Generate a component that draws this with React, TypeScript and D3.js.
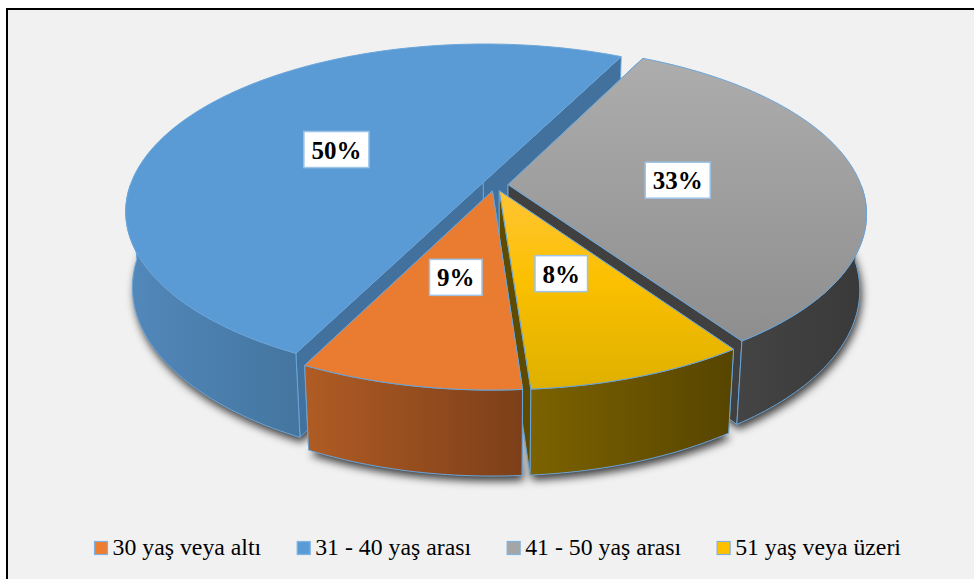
import React from "react";
import * as d3 from "d3";

// values
const categories = ["30 yaş veya altı", "31 - 40 yaş arası", "41 - 50 yaş arası", "51 yaş veya üzeri"];
const shares = [8.5, 50, 33.1, 8.4];

// colours per slice
const topFills = ["#e97c30", "#5b9bd5", "url(#topGray)", "url(#topYellow)"];
const wallFills = ["url(#wallOrange)", "url(#wallBlue)", "url(#wallGray)", "url(#wallYellow)"];
const cutFills = ["#8a4a1e", "#41719c", "#404040", "#5f4b00"];
const legendFills = ["#ed7d31", "#5b9bd5", "#a5a5a5", "#ffc000"];
const edge = "#6aa5da";

// back to front
const drawOrder = [1, 2, 3, 0];

const W = 974;
const H = 579;

// camera used for the tilted disc
const cx = 495;
const cy = 185;
const R = 353;
const Rh = 162.8;
const persp = 0.171;
const depthPersp = 0.018;
const depth = 76;
const explode = 0.037;
const labelRadius = 0.485;
const firstAngle = (175.9 * Math.PI) / 180;

function project(u: number, v: number, z: number): [number, number] {
    const s = 1 / (1 + persp * v + depthPersp * z);
    return [cx + R * u * s, cy - Rh * v * s + depth * z * s];
}

export default function App() {
    const ref = React.useRef<SVGSVGElement>(null);

    React.useEffect(() => {
        const svg = d3.select(ref.current);
        svg.selectAll("*").remove();
        drawChart(svg);
    }, []);

    function drawChart(svg: any) {
        const defs = svg.append("defs");
        const addGradient = (id: string, vertical: boolean, stops: [number, string][]) => {
            const g = defs
                .append("linearGradient")
                .attr("id", id)
                .attr("x1", 0)
                .attr("y1", 0)
                .attr("x2", vertical ? 0 : 1)
                .attr("y2", vertical ? 1 : 0);
            stops.forEach(([o, c]) => g.append("stop").attr("offset", o).attr("stop-color", c));
        };
        addGradient("topGray", true, [[0, "#adadad"], [1, "#8e8e8e"]]);
        addGradient("topYellow", true, [[0, "#ffc535"], [0.45, "#fbc000"], [1, "#dfb000"]]);
        addGradient("wallOrange", false, [[0, "#b05c24"], [1, "#7c3f19"]]);
        addGradient("wallBlue", false, [[0, "#5288bb"], [1, "#44759f"]]);
        addGradient("wallGray", false, [[0, "#444444"], [1, "#393939"]]);
        addGradient("wallYellow", false, [[0, "#7c6200"], [1, "#574500"]]);

        const blur = defs
            .append("filter")
            .attr("id", "blur")
            .attr("x", "-10%")
            .attr("y", "-10%")
            .attr("width", "120%")
            .attr("height", "120%");
        blur.append("feGaussianBlur").attr("stdDeviation", 4);

        // chart frame
        svg.append("rect")
            .attr("x", 7)
            .attr("y", 9)
            .attr("width", W + 10)
            .attr("height", H + 10)
            .attr("fill", "#f1f1f1")
            .attr("stroke", "#000")
            .attr("stroke-width", 2);

        const pie = d3
            .pie<number>()
            .sort(null)
            .startAngle(firstAngle)
            .endAngle(firstAngle + 2 * Math.PI);
        const arcs = pie(shares);

        const line = d3.line();

        const slices = arcs.map((a) => {
            const mid = (a.startAngle + a.endAngle) / 2;
            const ou = explode * Math.sin(mid);
            const ov = explode * Math.cos(mid);
            const at = (r: number, t: number, z: number) =>
                project(ou + r * Math.sin(t), ov + r * Math.cos(t), z);
            const n = Math.ceil((a.endAngle - a.startAngle) / 0.02);
            const ts = d3.range(n + 1).map((i) => a.startAngle + ((a.endAngle - a.startAngle) * i) / n);
            return { mid, at, ts };
        });

        const pieG = svg.append("g");

        // soft shadow under the bottom plane
        const shadow = pieG.append("g").attr("filter", "url(#blur)").attr("transform", "translate(2,5)");
        slices.forEach((s) => {
            const pts = [s.at(0, s.ts[0], 1), ...s.ts.map((t) => s.at(1, t, 1))];
            shadow.append("path").attr("d", line(pts) + "Z").attr("fill", "#000").attr("fill-opacity", 0.75);
        });

        const face = (pts: [number, number][], fill: string) =>
            pieG
                .append("path")
                .attr("d", line(pts) + "Z")
                .attr("fill", fill)
                .attr("stroke", edge)
                .attr("stroke-width", 1)
                .attr("stroke-linejoin", "round");

        drawOrder.forEach((i) => {
            const s = slices[i];
            const first = s.ts[0];
            const last = s.ts[s.ts.length - 1];
            const cut = (t: number): [number, number][] => [
                s.at(0, t, 0),
                s.at(1, t, 0),
                s.at(1, t, 1),
                s.at(0, t, 1),
            ];
            face(cut(first), cutFills[i]);
            face(cut(last), cutFills[i]);
            // only the camera-facing part of the rim
            const front = s.ts.filter((t) => Math.cos(t) < 0);
            const wall = [
                ...front.map((t) => s.at(1, t, 0)),
                ...front.slice().reverse().map((t) => s.at(1, t, 1)),
            ];
            face(wall, wallFills[i]);
            face([s.at(0, first, 0), ...s.ts.map((t) => s.at(1, t, 0))], topFills[i]);
        });

        // data labels
        slices.forEach((s, i) => {
            const [x, y] = s.at(labelRadius, s.mid, 0);
            const g = svg.append("g").attr("transform", `translate(${x},${y + 1})`);
            const box = g
                .append("rect")
                .attr("fill", "#fff")
                .attr("stroke", "#9dc3e6")
                .attr("stroke-width", 1.5);
            const text = g
                .append("text")
                .attr("text-anchor", "middle")
                .attr("y", 9)
                .attr("font-family", "'Liberation Serif', serif")
                .attr("font-weight", "bold")
                .attr("font-size", 25)
                .attr("fill", "#000")
                .text(Math.round(shares[i]) + "%");
            const w = text.node().getComputedTextLength() + 15;
            box.attr("x", -w / 2).attr("y", -18).attr("width", w).attr("height", 36);
        });

        // legend
        let lx = 94.5;
        categories.forEach((c, i) => {
            svg.append("rect")
                .attr("x", lx)
                .attr("y", 541.5)
                .attr("width", 13)
                .attr("height", 13)
                .attr("fill", legendFills[i])
                .attr("stroke", "#7fb2e0")
                .attr("stroke-width", 1.2);
            const t = svg
                .append("text")
                .attr("x", lx + 18)
                .attr("y", 555)
                .attr("font-family", "'Liberation Serif', serif")
                .attr("font-size", 23.8)
                .attr("fill", "#000")
                .text(c);
            lx += 18 + t.node().getComputedTextLength() + 36;
        });
    }

    return (
        <svg
            ref={ref}
            width={W}
            height={H}
            style={{ position: "absolute", left: 0, top: 0, background: "#fff" }}
        />
    );
}
